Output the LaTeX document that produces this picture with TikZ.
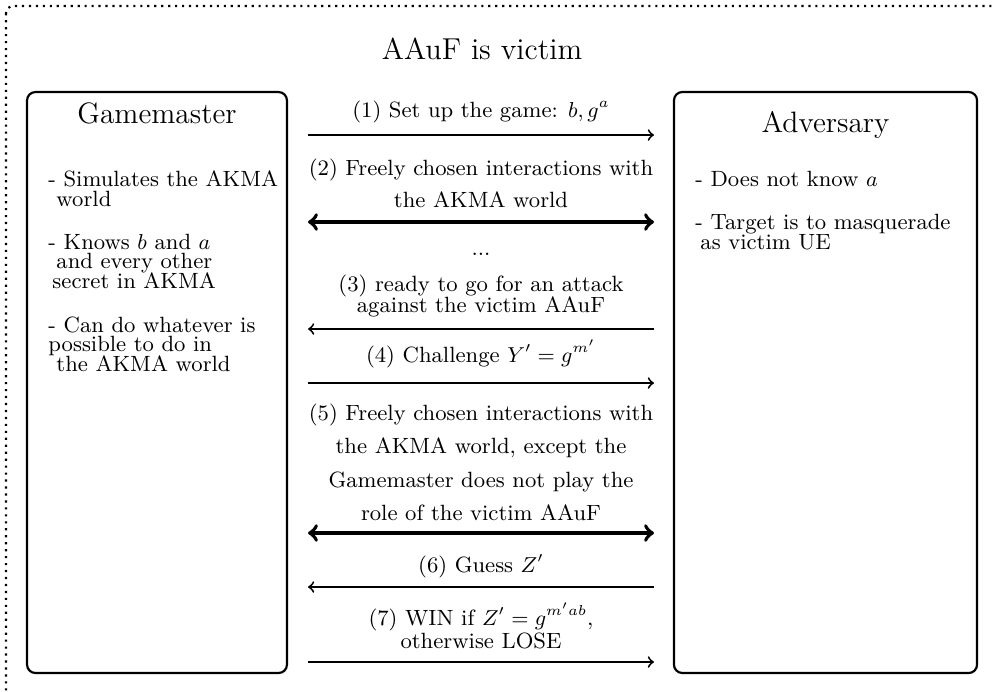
\documentclass[tikz,border=0pt]{standalone}
\begin{document}
\begin{tikzpicture}[x=0.4167pt,y=-0.4167pt,
  panel/.style={draw,line width=0.9pt,rounded corners=3.5pt,inner sep=0pt},
  head/.style={font=\fontsize{12.3}{14}\selectfont,inner sep=0pt,anchor=base},
  txt/.style={font=\fontsize{9.2}{10}\selectfont,inner sep=0pt,anchor=base west},
  lbl/.style={font=\fontsize{9.2}{10}\selectfont,inner sep=0pt,anchor=base},
  msg/.style={line width=0.8pt,->},
  bulk/.style={line width=1.6pt,<->},
]
\clip (0,0) rectangle (996,691);
% outer dotted frame, running past the right and bottom edges
\draw[dotted,line width=0.9pt,rounded corners=3pt] (6,6) rectangle (1004,720);

\node[head,font=\fontsize{12.6}{14}\selectfont] (title) at (482,59) {AAuF is victim};

% the two parties
\node[panel,minimum width=108.3pt,minimum height=242.1pt] (gm) at (157,382.5) {};
\node[panel,minimum width=126.3pt,minimum height=242.1pt] (adv) at (825.5,382.5) {};
\node[head] (gmhead) at (157,123) {Gamemaster};
\node[head] (advhead) at (825.5,132) {Adversary};

\node[txt] (gm1) at (48,186) {- Simulates the AKMA};
\node[txt] (gm2) at (56,206) {world};
\node[txt] (gm3) at (48,249) {- Knows $b$ and $a$};
\node[txt] (gm4) at (56,268) {and every other};
\node[txt] (gm5) at (52,288) {secret in AKMA};
\node[txt] (gm6) at (48,332) {- Can do whatever is};
\node[txt] (gm7) at (48,351) {possible to do in};
\node[txt] (gm8) at (56,371) {the AKMA world};

\node[txt] (ad1) at (695,186) {- Does not know $a$};
\node[txt] (ad2) at (695,229) {- Target is to masquerade};
\node[txt] (ad3) at (700,249) {as victim UE};

% message labels
\node[lbl] (l1) at (481,117) {(1) Set up the game: $b, g^a$};
\node[lbl] (l2a) at (481,175) {(2) Freely chosen interactions with};
\node[lbl] (l2b) at (481,207) {the AKMA world};
\node[lbl] (dots) at (481,255) {...};
\node[lbl] (l3a) at (481,291) {(3) ready to go for an attack};
\node[lbl] (l3b) at (481,312) {against the victim AAuF};
\node[lbl] (l4) at (481,362) {(4) Challenge $Y' = g^{m'}$};
\node[lbl] (l5a) at (481,420) {(5) Freely chosen interactions with};
\node[lbl] (l5b) at (481,453) {the AKMA world, except the};
\node[lbl] (l5c) at (481,487) {Gamemaster does not play the};
\node[lbl] (l5d) at (481,520) {role of the victim AAuF};
\node[lbl] (l6) at (481,572) {(6) Guess $Z'$};
\node[lbl] (l7a) at (481,625) {(7) WIN if $Z' = g^{m'ab}$,};
\node[lbl] (l7b) at (481,648) {otherwise LOSE};

% message ends
\foreach \n/\y in {1/135,2/222,3/329,4/383,5/533,6/587,7/662}{
  \coordinate (g\n) at (308,\y);
  \coordinate (a\n) at (654,\y);
}
\draw[msg] (g1) -- (a1);
\draw[bulk] (g2) -- (a2);
\draw[msg] (a3) -- (g3);
\draw[msg] (g4) -- (a4);
\draw[bulk] (g5) -- (a5);
\draw[msg] (a6) -- (g6);
\draw[msg] (g7) -- (a7);
\end{tikzpicture}
\end{document}
